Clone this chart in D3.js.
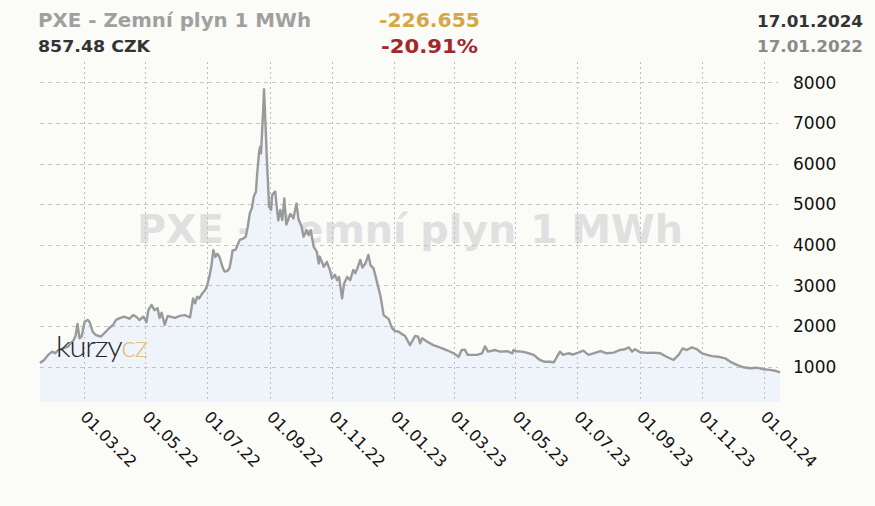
<!DOCTYPE html>
<html><head><meta charset="utf-8">
<script src="https://cdn.jsdelivr.net/npm/d3@7"></script>
<style>html,body{margin:0;padding:0;background:#fbfbf8;}svg{display:block}</style>
</head><body><svg id="c" width="875" height="506"></svg>
<script>
const dates = ["2022-01-17","2022-01-21","2022-01-25","2022-01-29","2022-02-01","2022-02-04","2022-02-09","2022-02-14","2022-02-16","2022-02-19","2022-02-21","2022-02-23","2022-02-25","2022-02-27","2022-03-02","2022-03-05","2022-03-07","2022-03-10","2022-03-13","2022-03-18","2022-03-23","2022-03-26","2022-03-30","2022-04-02","2022-04-05","2022-04-10","2022-04-15","2022-04-19","2022-04-22","2022-04-25","2022-04-29","2022-05-02","2022-05-04","2022-05-07","2022-05-10","2022-05-13","2022-05-15","2022-05-17","2022-05-20","2022-05-23","2022-05-30","2022-06-04","2022-06-09","2022-06-14","2022-06-17","2022-06-19","2022-06-21","2022-06-23","2022-06-26","2022-06-29","2022-07-01","2022-07-03","2022-07-05","2022-07-07","2022-07-09","2022-07-11","2022-07-13","2022-07-16","2022-07-18","2022-07-21","2022-07-23","2022-07-25","2022-07-26","2022-07-29","2022-08-02","2022-08-06","2022-08-08","2022-08-10","2022-08-12","2022-08-14","2022-08-16","2022-08-18","2022-08-19","2022-08-21","2022-08-22","2022-08-23","2022-08-25","2022-08-26","2022-08-27","2022-08-29","2022-08-31","2022-09-02","2022-09-03","2022-09-06","2022-09-09","2022-09-11","2022-09-13","2022-09-15","2022-09-17","2022-09-21","2022-09-24","2022-09-27","2022-09-29","2022-10-02","2022-10-04","2022-10-07","2022-10-09","2022-10-11","2022-10-14","2022-10-17","2022-10-19","2022-10-20","2022-10-24","2022-10-27","2022-10-30","2022-11-01","2022-11-04","2022-11-06","2022-11-08","2022-11-11","2022-11-13","2022-11-16","2022-11-19","2022-11-22","2022-11-24","2022-11-26","2022-11-29","2022-12-01","2022-12-04","2022-12-07","2022-12-09","2022-12-12","2022-12-15","2022-12-19","2022-12-22","2022-12-27","2022-12-30","2023-01-02","2023-01-06","2023-01-09","2023-01-12","2023-01-17","2023-01-22","2023-01-25","2023-01-27","2023-01-29","2023-02-03","2023-02-09","2023-02-16","2023-02-22","2023-03-01","2023-03-06","2023-03-09","2023-03-12","2023-03-15","2023-03-19","2023-03-24","2023-03-29","2023-04-01","2023-04-04","2023-04-11","2023-04-16","2023-04-23","2023-04-28","2023-04-29","2023-05-02","2023-05-07","2023-05-12","2023-05-19","2023-05-25","2023-05-30","2023-06-04","2023-06-08","2023-06-11","2023-06-14","2023-06-17","2023-06-22","2023-06-27","2023-07-02","2023-07-07","2023-07-12","2023-07-17","2023-07-24","2023-07-30","2023-08-06","2023-08-12","2023-08-17","2023-08-21","2023-08-24","2023-08-27","2023-09-01","2023-09-08","2023-09-14","2023-09-21","2023-09-27","2023-10-04","2023-10-09","2023-10-13","2023-10-17","2023-10-22","2023-10-27","2023-11-01","2023-11-06","2023-11-11","2023-11-17","2023-11-24","2023-11-29","2023-12-06","2023-12-12","2023-12-19","2023-12-25","2024-01-01","2024-01-07","2024-01-12","2024-01-17"];
const values = [1090,1165,1290,1370,1330,1410,1450,1500,1575,1650,1750,2050,1700,1740,2105,2150,2100,1860,1780,1740,1860,1945,2025,2150,2190,2230,2180,2270,2230,2150,2230,2100,2400,2520,2390,2440,2200,2330,2030,2250,2200,2250,2270,2210,2680,2560,2720,2680,2800,2890,3010,3210,3460,3870,3700,3780,3700,3460,3340,3360,3430,3700,3860,3880,4120,4160,4200,4450,4780,4900,5200,5300,5680,6250,6410,6250,7240,7830,7240,6010,4940,4860,5230,5310,4600,4860,4610,5140,4500,4760,4650,5020,4630,4450,4200,4360,4240,4360,3950,3830,3540,3710,3460,3580,3380,3170,3260,3130,3210,2680,3050,3210,3130,3380,3300,3420,3630,3440,3540,3750,3500,3420,3130,2720,2270,2170,1960,1880,1860,1800,1760,1530,1755,1740,1575,1700,1615,1530,1470,1410,1330,1245,1410,1420,1290,1290,1290,1330,1500,1370,1410,1370,1380,1330,1410,1380,1370,1345,1290,1165,1120,1120,1110,1245,1370,1290,1330,1300,1345,1395,1290,1330,1385,1330,1345,1410,1430,1475,1370,1430,1355,1340,1345,1330,1245,1165,1290,1450,1410,1475,1430,1330,1290,1260,1245,1205,1120,1040,985,960,975,935,920,900,857];
const yTickValues = [1000,2000,3000,4000,5000,6000,7000,8000];
const xTickLabels = ["01.03.22","01.05.22","01.07.22","01.09.22","01.11.22","01.01.23","01.03.23","01.05.23","01.07.23","01.09.23","01.11.23","01.01.24"];
const titleText = "PXE - Zemní plyn 1 MWh";
const lastPrice = "857.48 CZK";
const changeAbs = "-226.655";
const changePct = "-20.91%";
const dateEnd = "17.01.2024";
const dateStart = "17.01.2022";

const svg = d3.select("#c");
const plot = {left:40, right:780, top:62, bottom:402};
const parse = d3.utcParse("%Y-%m-%d");
const tickParse = d3.utcParse("%d.%m.%y");
const data = dates.map((d,i)=>({date:parse(d), value:values[i]}));

const x = d3.scaleUtc().domain([parse(dates[0]), parse(dates[dates.length-1])]).range([plot.left, plot.right]);
const y = d3.scaleLinear().domain([0, 8000]).range([407.3, 82.3]);

svg.append("rect").attr("width",875).attr("height",506).attr("fill","#fbfbf8");

// watermark
svg.append("text").attr("x",410).attr("y",243).attr("text-anchor","middle")
  .attr("font-family","'DejaVu Sans', Verdana, sans-serif").attr("font-weight","bold")
  .attr("font-size",39.5).attr("fill","#e0e0e0")
  .attr("textLength",546).attr("lengthAdjust","spacingAndGlyphs").text(titleText);

// area
const area = d3.area().x(d=>x(d.date)).y0(plot.bottom).y1(d=>y(d.value));
svg.append("path").datum(data).attr("d",area).attr("fill","#eff3fa");

// gridlines
const tickDates = xTickLabels.map(t=>tickParse(t));
svg.append("g").selectAll("line").data(tickDates).join("line")
  .attr("x1",d=>Math.round(x(d))+0.5).attr("x2",d=>Math.round(x(d))+0.5)
  .attr("y1",plot.top).attr("y2",plot.bottom)
  .attr("stroke","#bdbdbd").attr("stroke-width",1).attr("stroke-dasharray","2,3");
svg.append("g").selectAll("line").data(yTickValues).join("line")
  .attr("x1",plot.left).attr("x2",plot.right-2)
  .attr("y1",d=>Math.round(y(d))+0.5).attr("y2",d=>Math.round(y(d))+0.5)
  .attr("stroke","#c4c4c4").attr("stroke-width",1).attr("stroke-dasharray","4,4");

// line
const line = d3.line().x(d=>x(d.date)).y(d=>y(d.value));
svg.append("path").datum(data).attr("d",line).attr("fill","none")
  .attr("stroke","#9a9a9a").attr("stroke-width",2.4).attr("stroke-linejoin","round");

// y axis labels
svg.append("g").selectAll("text").data(yTickValues).join("text")
  .attr("x",793).attr("y",d=>y(d)+6.2)
  .attr("font-family","'DejaVu Sans', Verdana, sans-serif").attr("font-size",17)
  .attr("fill","#111").text(d=>d3.format("d")(d));

// x axis labels
svg.append("g").selectAll("text").data(tickDates).join("text")
  .attr("transform",(d)=>`translate(${x(d)-4},418) rotate(45)`)
  .attr("font-family","'DejaVu Sans', Verdana, sans-serif").attr("font-size",16)
  .attr("fill","#111").text((d,i)=>xTickLabels[i]);

// header
const hdr = [
  {t:titleText, x:38, y:27, size:19, color:"#a0a0a0", w:273},
  {t:changeAbs, x:379, y:27, size:19, color:"#d6a843", w:101},
  {t:dateEnd, x:757, y:27, size:16, color:"#333333", w:106},
  {t:lastPrice, x:38, y:52, size:16, color:"#333333", w:112},
  {t:changePct, x:381, y:53, size:20, color:"#a3282b", w:97},
  {t:dateStart, x:757, y:52, size:16, color:"#8a8a8a", w:106}
];
svg.append("g").selectAll("text").data(hdr).join("text")
  .attr("x",d=>d.x).attr("y",d=>d.y)
  .attr("font-family","'DejaVu Sans', Verdana, sans-serif").attr("font-weight","bold")
  .attr("font-size",d=>d.size).attr("fill",d=>d.color)
  .attr("textLength",d=>d.w).attr("lengthAdjust","spacingAndGlyphs")
  .text(d=>d.t);

// logo
const logo = svg.append("text").attr("x",56).attr("y",357)
  .attr("font-family","Lato, 'Open Sans', sans-serif").attr("font-weight",300)
  .attr("font-size",30).attr("letter-spacing",-1.2)
  .attr("textLength",91).attr("lengthAdjust","spacingAndGlyphs");
logo.append("tspan").attr("fill","#262626").text("kurzy");
logo.append("tspan").attr("fill","#e2c07c").text("cz");
</script></body></html>
